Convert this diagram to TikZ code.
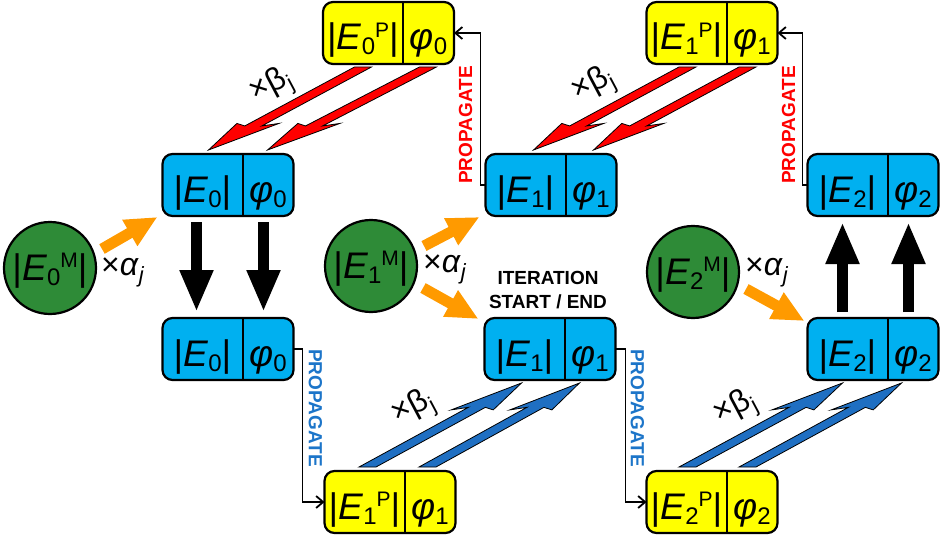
\documentclass[tikz,border=0pt]{standalone}
\usepackage{fontspec}
\setmainfont{Liberation Sans}
\usetikzlibrary{arrows.meta,calc}
\definecolor{boxblue}{HTML}{00B0F0}
\definecolor{boxyellow}{HTML}{FFFF00}
\definecolor{mgreen}{HTML}{2E8B37}
\definecolor{oarr}{HTML}{FF9A00}
\definecolor{redarr}{HTML}{FF0000}
\definecolor{bluearr}{HTML}{1F6FC2}
\definecolor{propblue}{HTML}{1C75C9}
\newcommand{\lo}[1]{\raisebox{-5pt}{\fontsize{24pt}{24pt}\selectfont #1}}
\newcommand{\hi}[1]{\raisebox{13pt}{\fontsize{21pt}{21pt}\selectfont #1}}
\newcommand{\jlo}[1]{\raisebox{-7pt}{\fontsize{22pt}{22pt}\selectfont #1}}
\newcommand{\Eb}[1]{|\textit{E}\lo{#1}|}
\newcommand{\Ep}[1]{|\textit{E}\lo{#1}\hi{P}|}
\newcommand{\Em}[1]{|\textit{E}\lo{#1}\hi{M}|}
\newcommand{\ph}[1]{\textit{φ}\lo{#1}}
\newcommand{\xa}{×\textit{α}\jlo{\textit{j}}}
\newcommand{\xb}{×β\jlo{j}}
\tikzset{
  sbox/.style={draw=black, line width=2.2pt, rounded corners=10pt, minimum width=131pt, minimum height=62pt, inner sep=0pt, outer sep=0pt},
  btext/.style={font=\fontsize{37pt}{40pt}\selectfont, inner sep=0pt},
  mcirc/.style={circle, draw=black, line width=2.2pt, fill=mgreen, minimum size=92pt, inner sep=0pt, outer sep=0pt},
  atext/.style={font=\fontsize{32pt}{34pt}\selectfont, inner sep=0pt},
  oarrow/.style={draw=oarr, line width=11pt, -{Triangle[length=32pt,width=28pt]}},
  barrow/.style={draw=black, line width=11pt, -{Triangle[length=42pt,width=31pt]}},
  prop/.style={draw=black, line width=1.8pt, -{Straight Barb[length=7pt,width=12pt]}},
  proptext/.style={font=\fontsize{19pt}{20pt}\selectfont\bfseries, inner sep=0pt},
  itext/.style={font=\fontsize{19pt}{24pt}\selectfont\bfseries, align=center, inner sep=0pt},
  skewpoly/.style={draw=black, line width=0.8pt, line join=miter}
}
\newcommand{\splitbox}[5]{%
  \node[sbox, fill=#3] (#1) at (#2) {};
  \draw[line width=2pt] ([xshift=80pt]#1.north west) -- ([xshift=80pt]#1.south west);
  \node[btext, anchor=base] (#1l) at ([xshift=40pt,yshift=-17pt]#1.west) {#4};
  \node[btext, anchor=base] (#1r) at ([xshift=-25.5pt,yshift=-17pt]#1.east) {#5};
}
\newcommand{\skewarr}[3]{%
  \filldraw[skewpoly, fill=#3]
    ($(#1)+(-8.5,0)$) -- ($(#1)!0.71!(#2)+(-8.5,0)$) -- ($(#1)!0.68!(#2)+(-21,0)$) -- (#2)
    -- ($(#1)!0.68!(#2)+(21,0)$) -- ($(#1)!0.71!(#2)+(8.5,0)$) -- ($(#1)+(8.5,0)$) -- cycle;
}
\begin{document}
\begin{tikzpicture}[x=1pt,y=-1pt]
\useasboundingbox (0,0) rectangle (940,535);
% boxes
\splitbox{y0}{388.5,33}{boxyellow}{\Ep{0}}{\ph{0}}
\splitbox{y1t}{712,33}{boxyellow}{\Ep{1}}{\ph{1}}
\splitbox{b0t}{228,185}{boxblue}{\Eb{0}}{\ph{0}}
\splitbox{b1t}{551,185}{boxblue}{\Eb{1}}{\ph{1}}
\splitbox{b2t}{873,185}{boxblue}{\Eb{2}}{\ph{2}}
\splitbox{b0b}{228,349}{boxblue}{\Eb{0}}{\ph{0}}
\splitbox{b1b}{550,349}{boxblue}{\Eb{1}}{\ph{1}}
\splitbox{b2b}{873,349}{boxblue}{\Eb{2}}{\ph{2}}
\splitbox{y1b}{390,502}{boxyellow}{\Ep{1}}{\ph{1}}
\splitbox{y2b}{712,502}{boxyellow}{\Ep{2}}{\ph{2}}
% measurement circles
\node[mcirc] (c0) at (50,268) {};
\node[btext, anchor=base] (c0t) at ($(c0)+(0,12)$) {\Em{0}};
\node[mcirc] (c1) at (371,266) {};
\node[btext, anchor=base] (c1t) at ($(c1)+(0,12)$) {\Em{1}};
\node[mcirc] (c2) at (693,272) {};
\node[btext, anchor=base] (c2t) at ($(c2)+(0,12)$) {\Em{2}};
\node[atext, anchor=base west] (a0) at ($(c0)+(51,7)$) {\xa};
\node[atext, anchor=base west] (a1) at ($(c1)+(52,6)$) {\xa};
\node[atext, anchor=base west] (a2) at ($(c2)+(52,3)$) {\xa};
% orange arrows
\coordinate (o0s) at ($(c0)+(52,-19)$);
\coordinate (o0e) at ($(b0t.south west)+(-5,1)$);
\coordinate (o1s) at ($(c1)+(53,-20)$);
\coordinate (o1e) at ($(b1t.south west)+(-6,1)$);
\coordinate (o2s) at ($(c1)+(52,22)$);
\coordinate (o2e) at ($(b1b.north west)+(-6,1)$);
\coordinate (o3s) at ($(c2)+(53,17)$);
\coordinate (o3e) at ($(b2b.north west)+(-3,3)$);
\draw[oarrow] (o0s) -- (o0e);
\draw[oarrow] (o1s) -- (o1e);
\draw[oarrow] (o2s) -- (o2e);
\draw[oarrow] (o3s) -- (o3e);
% black thick arrows
\draw[barrow] ($(b0t.south west)+(34,6)$) -- ($(b0b.north west)+(34,-6)$);
\draw[barrow] ($(b0t.south west)+(101,6)$) -- ($(b0b.north west)+(101,-6)$);
\draw[barrow] ($(b2b.north west)+(35,-6)$) -- ($(b2t.south west)+(35,6)$);
\draw[barrow] ($(b2b.north west)+(101,-6)$) -- ($(b2t.south west)+(101,6)$);
% red arrows
\coordinate (r0at) at ($(y0.south west)+(40,3)$);
\coordinate (r0ah) at ($(b0t.north west)+(46,-4)$);
\coordinate (r0bt) at ($(y0.south west)+(105,3)$);
\coordinate (r0bh) at ($(b0t.north west)+(105,-4)$);
\coordinate (r1at) at ($(y1t.south west)+(41,3)$);
\coordinate (r1ah) at ($(b1t.north west)+(48,-4)$);
\coordinate (r1bt) at ($(y1t.south west)+(101,3)$);
\coordinate (r1bh) at ($(b1t.north west)+(108,-4)$);
\skewarr{r0at}{r0ah}{redarr}
\skewarr{r0bt}{r0bh}{redarr}
\skewarr{r1at}{r1ah}{redarr}
\skewarr{r1bt}{r1bh}{redarr}
% blue arrows
\coordinate (u1at) at ($(y1b.north west)+(43,-4)$);
\coordinate (u1ah) at ($(b1b.south west)+(37,3)$);
\coordinate (u1bt) at ($(y1b.north west)+(103,-4)$);
\coordinate (u1bh) at ($(b1b.south west)+(95,3)$);
\coordinate (u2at) at ($(y2b.north west)+(41,-4)$);
\coordinate (u2ah) at ($(b2b.south west)+(35,3)$);
\coordinate (u2bt) at ($(y2b.north west)+(101,-4)$);
\coordinate (u2bh) at ($(b2b.south west)+(94,3)$);
\skewarr{u1at}{u1ah}{bluearr}
\skewarr{u1bt}{u1bh}{bluearr}
\skewarr{u2at}{u2ah}{bluearr}
\skewarr{u2bt}{u2bh}{bluearr}
% beta labels
\node[atext, rotate=28] (bt0) at ($(b0t.north west)+(109,-67)$) {\xb};
\node[atext, rotate=28] (bt1) at ($(b1t.north west)+(108,-68)$) {\xb};
\node[atext, rotate=28] (bt2) at ($(y1b.north west)+(89,-62)$) {\xb};
\node[atext, rotate=28] (bt3) at ($(y2b.north west)+(89,-62)$) {\xb};
% propagate connectors
\draw[prop] (b1t.west) -- ++(-5,0) |- (y0.east);
\draw[prop] (b2t.west) -- ++(-5,0) |- (y1t.east);
\draw[prop] (b0b.east) -- ++(9,0) |- (y1b.west);
\draw[prop] (b1b.east) -- ++(10,0) |- (y2b.west);
\node[proptext, text=redarr, rotate=90] (p0) at ($(b1t.west)+(-20,-60)$) {PROPAGATE};
\node[proptext, text=redarr, rotate=90] (p1) at ($(b2t.west)+(-19,-60)$) {PROPAGATE};
\node[proptext, text=propblue, rotate=-90] (p2) at ($(b0b.east)+(22,59)$) {PROPAGATE};
\node[proptext, text=propblue, rotate=-90] (p3) at ($(b1b.east)+(22,59)$) {PROPAGATE};
% iteration label
\node[itext] (it) at ($(b1b.north)+(-2,-28)$) {ITERATION\\START / END};
\end{tikzpicture}
\end{document}
